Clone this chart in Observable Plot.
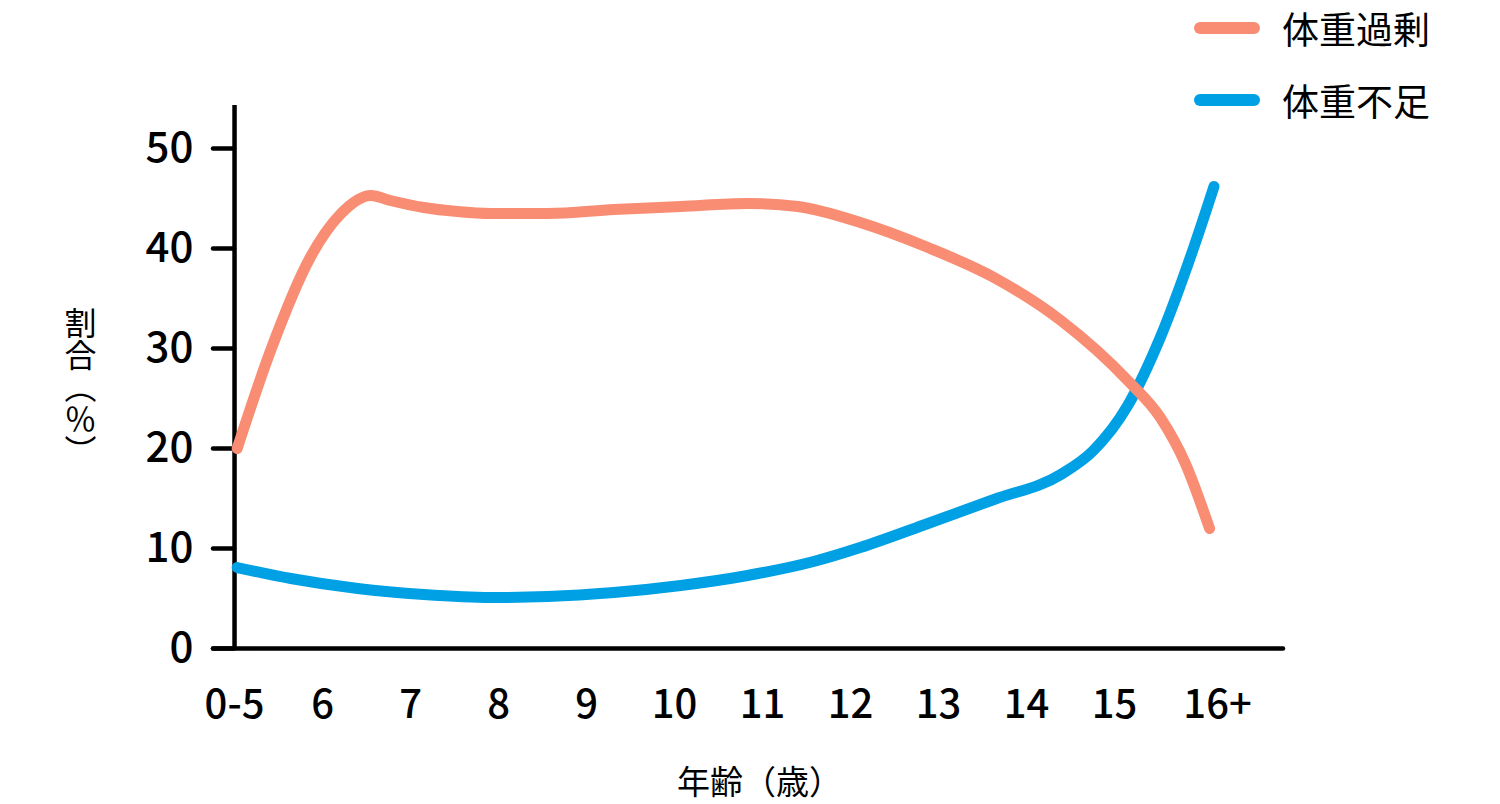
<!DOCTYPE html>
<html>
<head>
<meta charset="utf-8">
<script src="https://cdn.jsdelivr.net/npm/d3@7"></script>
<script src="https://cdn.jsdelivr.net/npm/@observablehq/plot@0.6"></script>
<style>
  html, body { margin: 0; padding: 0; background: #fff; }
  #wrap { position: relative; width: 1500px; height: 804px; font-family: "Noto Sans CJK JP", sans-serif; }
  #legend { position: absolute; left: 1194px; top: 0; }
  .row { position: absolute; left: 0; display: flex; align-items: center; height: 56px; white-space: nowrap; }
  .sw { width: 66px; height: 12px; border-radius: 6px; margin-right: 22px; }
  .lab { font-size: 37px; line-height: normal; color: #000; }
</style>
</head>
<body>
<div id="wrap"><div id="legend"></div></div>
<script>
// Category labels (x axis, evenly spaced by index)
const ageLabels = ["0-5", "6", "7", "8", "9", "10", "11", "12", "13", "14", "15", "16+"];
const yTicks = [0, 10, 20, 30, 40, 50];

// Series names and colours
const seriesNames = ["体重過剰", "体重不足"];
const seriesColors = ["#F88D73", "#00A0E4"];

// 体重過剰 (overweight): x = position in category-index units
const overX = [0.03, 0.41, 0.86, 1.20, 1.55, 1.77, 2.15, 2.53, 2.91, 3.56, 4.31, 5.07, 5.83, 6.40, 7.11, 7.88, 8.63, 9.39, 10.15, 10.52, 10.80, 11.08];
const overY = [20.0, 29.8, 39.1, 43.4, 45.3, 44.8, 44.1, 43.7, 43.5, 43.5, 43.9, 44.2, 44.5, 44.2, 42.6, 40.1, 37.1, 32.8, 26.8, 23.1, 18.6, 12.0];

// 体重不足 (underweight)
const underX = [0.03, 0.64, 1.40, 2.15, 2.91, 3.56, 4.31, 5.07, 5.83, 6.58, 7.11, 7.88, 8.63, 9.39, 9.76, 10.15, 10.52, 10.90, 11.13];
const underY = [8.1, 7.0, 6.0, 5.4, 5.1, 5.2, 5.6, 6.3, 7.3, 8.7, 10.1, 12.5, 14.9, 17.4, 19.8, 24.3, 31.1, 40.1, 46.2];

const xTitle = "年齢（歳）";
const yTitle = "割合（％）";

const overData = overX.map((x, i) => ({x, y: overY[i]}));
const underData = underX.map((x, i) => ({x, y: underY[i]}));

const font = "'Noto Sans CJK JP', 'Noto Sans', sans-serif";

const chart = Plot.plot({
  width: 1500,
  height: 804,
  marginLeft: 213,
  marginRight: 217,
  marginTop: 105,
  marginBottom: 156,
  style: {fontFamily: font, color: "#000", background: "#fff", overflow: "visible"},
  x: {domain: [-0.239, 11.92]},
  y: {domain: [0, 54.3]},
  marks: [
    Plot.axisY({ticks: yTicks, tickSize: 21, tickPadding: 20, dx: 21, fontSize: 42, fontWeight: 500, strokeWidth: 4.5, strokeLinecap: "round", label: null}),
    Plot.axisX({ticks: d3.range(ageLabels.length), tickFormat: i => ageLabels[i], tickSize: 0, tickPadding: 41, fontSize: 40, fontWeight: 500, label: null}),
    Plot.ruleX([0], {strokeWidth: 4.5}),
    Plot.ruleY([0], {strokeWidth: 4.5, strokeLinecap: "round"}),
    Plot.line(underData, {x: "x", y: "y", stroke: seriesColors[1], strokeWidth: 11, curve: "monotone-x", strokeLinecap: "round"}),
    Plot.line(overData, {x: "x", y: "y", stroke: seriesColors[0], strokeWidth: 11, curve: "monotone-x", strokeLinecap: "round"}),
    Plot.text([xTitle], {frameAnchor: "bottom", dy: 135, dx: 11, fontSize: 33, lineAnchor: "middle"}),
    Plot.text([yTitle], {frameAnchor: "left", dx: -133, fontSize: 32, lineAnchor: "middle"})
  ]
});

// vertical writing for the y title, nudge "16+"
d3.select(chart).selectAll("text").each(function() {
  const t = d3.select(this);
  if (this.textContent === yTitle) {
    t.attr("dy", null)
     .attr("text-anchor", "middle")
     .style("writing-mode", "vertical-rl")
     .style("text-anchor", "middle");
  }
  if (this.textContent === "16+") {
    t.attr("dx", 15);
  }
});

document.getElementById("wrap").appendChild(chart);
chart.style.position = "absolute";
chart.style.left = "0";
chart.style.top = "0";

const legend = document.getElementById("legend");
legend.style.zIndex = 2;
seriesNames.forEach((name, i) => {
  const row = document.createElement("div");
  row.className = "row";
  row.style.top = (i === 0 ? 0 : 72) + "px";
  const sw = document.createElement("div");
  sw.className = "sw";
  sw.style.background = seriesColors[i];
  const lab = document.createElement("div");
  lab.className = "lab";
  lab.textContent = name;
  row.appendChild(sw);
  row.appendChild(lab);
  legend.appendChild(row);
});
</script>
</body>
</html>
